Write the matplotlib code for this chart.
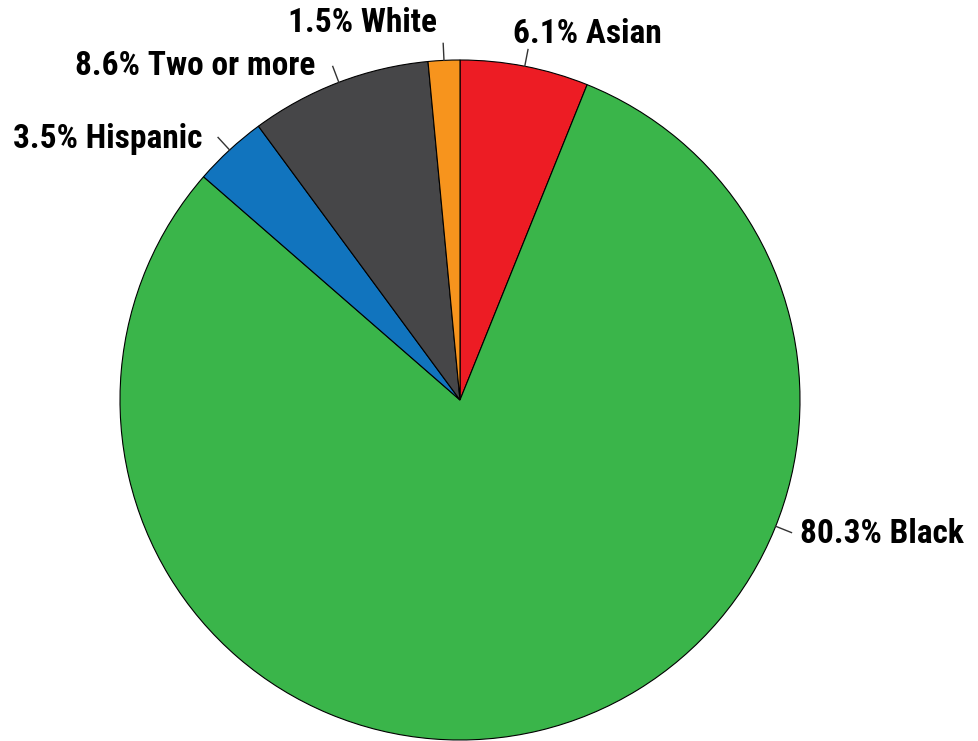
import numpy as np
import matplotlib.pyplot as plt

groups = ['Asian', 'Black', 'Hispanic', 'Two or more', 'White']
shares = [6.1, 80.3, 3.5, 8.6, 1.5]
colors = ['#ED1C24', '#3AB54A', '#1174BE', '#464648', '#F7941D']

# label layout in pie units (radius = 1): text x, baseline y, alignment
label_pos = {
    'Asian': (0.156, 1.050, 'left'),
    'Black': (1.0, -0.421, 'left'),
    'Hispanic': (-0.756, 0.741, 'right'),
    'Two or more': (-0.426, 0.956, 'right'),
    'White': (-0.068, 1.082, 'right'),
}
leader_angle = {'Black': -21.8}

fig = plt.figure(figsize=(9.79, 7.41), dpi=100)
ax = fig.add_axes([0, 0, 1, 1])
wedges, _ = ax.pie(shares, colors=colors, startangle=90, counterclock=False,
                   radius=1.0, wedgeprops=dict(edgecolor='black', linewidth=0.8))
ax.set_xlim(-460 / 340, 519 / 340)
ax.set_ylim(-341 / 340, 400 / 340)
ax.set_aspect('auto')
ax.axis('off')

for w, g, s in zip(wedges, groups, shares):
    ang = leader_angle.get(g, (w.theta1 + w.theta2) / 2)
    a = np.deg2rad(ang)
    ax.plot([np.cos(a), 1.05 * np.cos(a)], [np.sin(a), 1.05 * np.sin(a)],
            color='#333333', lw=1)
    tx, ty, ha = label_pos[g]
    ax.text(tx, ty, f'{s}% {g}', ha=ha, va='baseline', fontsize=24,
            fontweight='bold', family=['Roboto Condensed', 'DejaVu Sans'])

fig.savefig('out.png', dpi=100)
